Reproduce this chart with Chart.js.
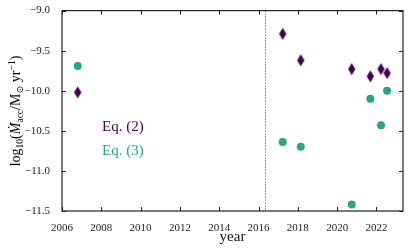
<!DOCTYPE html>
<html>
<head>
<meta charset="utf-8">
<script src="https://cdn.jsdelivr.net/npm/chart.js@4/dist/chart.umd.min.js"></script>
<style>
  html, body { margin: 0; padding: 0; background: #fff; }
  canvas { display: block; }
</style>
</head>
<body>
<canvas id="chart" width="415" height="249"></canvas>
<script>
const years = [2006.8, 2017.23, 2018.15, 2020.74, 2021.69, 2022.23, 2022.54]
const eq2 = [-10.02, -9.29, -9.62, -9.73, -9.82, -9.73, -9.78]
const eq3 = [-9.69, -10.64, -10.70, -11.42, -10.10, -10.43, -10.0]
const xTicks = [2006, 2008, 2010, 2012, 2014, 2016, 2018, 2020, 2022]
const yTicks = [-11.5, -11.0, -10.5, -10.0, -9.5, -9.0]
const markerYear = 2016.33

const purple = "#440154"
const teal = "#22a884"
const serif = "'Liberation Serif', 'DejaVu Serif', serif"

// thin diamond like matplotlib's "d"
function thinDiamond(color) {
  const c = document.createElement("canvas")
  c.width = 9
  c.height = 13
  const g = c.getContext("2d")
  g.fillStyle = color
  g.beginPath()
  g.moveTo(4.5, 0.5)
  g.lineTo(8.2, 6.5)
  g.lineTo(4.5, 12.5)
  g.lineTo(0.8, 6.5)
  g.closePath()
  g.fill()
  return c
}

const fmtMinus = (v) => (v < 0 ? "\u2212" : "") + Math.abs(v).toFixed(1)

const framePlugin = {
  id: "frame",
  beforeDatasetsDraw(chart) {
    const { ctx, chartArea: a, scales } = chart
    const x = scales.x.getPixelForValue(markerYear)
    ctx.save()
    ctx.strokeStyle = "#333"
    ctx.lineWidth = 1
    ctx.setLineDash([1, 2])
    ctx.beginPath()
    ctx.moveTo(Math.round(x) + 0.5, a.top)
    ctx.lineTo(Math.round(x) + 0.5, a.bottom)
    ctx.stroke()
    ctx.restore()
  },
  afterDraw(chart) {
    const { ctx, chartArea: a, scales } = chart
    ctx.save()
    ctx.strokeStyle = "#222"
    ctx.lineWidth = 1.2
    ctx.strokeRect(a.left, a.top, a.right - a.left, a.bottom - a.top)
    ctx.lineWidth = 1
    const tl = 4
    ctx.beginPath()
    xTicks.forEach((v) => {
      const px = Math.round(scales.x.getPixelForValue(v)) + 0.5
      ctx.moveTo(px, a.bottom)
      ctx.lineTo(px, a.bottom - tl)
      ctx.moveTo(px, a.top)
      ctx.lineTo(px, a.top + tl)
    })
    yTicks.forEach((v) => {
      const py = Math.round(scales.y.getPixelForValue(v)) + 0.5
      ctx.moveTo(a.left, py)
      ctx.lineTo(a.left + tl, py)
      ctx.moveTo(a.right, py)
      ctx.lineTo(a.right - tl, py)
    })
    ctx.stroke()

    // legend-like labels
    ctx.font = "15px " + serif
    ctx.textBaseline = "middle"
    ctx.textAlign = "left"
    ctx.fillStyle = purple
    ctx.fillText("Eq. (2)", a.left + 40, 127)
    ctx.fillStyle = teal
    ctx.fillText("Eq. (3)", a.left + 40, 151)

    // y axis title with sub/superscripts
    const parts = [
      ["log", 14, 0, ""],
      ["10", 9.5, 3, ""],
      ["(", 14, 0, ""],
      ["\u1E40", 14, 0, "italic "],
      ["acc", 9.5, 3, ""],
      ["/M", 14, 0, ""],
      ["\u2299", 9.5, 3, ""],
      [" yr", 14, 0, ""],
      ["\u22121", 9.5, -5.5, ""],
      [")", 14, 0, ""],
    ]
    let total = 0
    parts.forEach((p) => {
      ctx.font = p[3] + p[1] + "px " + serif
      total += ctx.measureText(p[0]).width
    })
    ctx.translate(15, 111)
    ctx.rotate(-Math.PI / 2)
    ctx.fillStyle = "#000"
    ctx.textBaseline = "alphabetic"
    let cx = -total / 2
    parts.forEach((p) => {
      ctx.font = p[3] + p[1] + "px " + serif
      ctx.fillText(p[0], cx, 5 + p[2])
      cx += ctx.measureText(p[0]).width
    })
    ctx.restore()
  },
}

const data = {
  datasets: [
    {
      label: "Eq. (2)",
      data: years.map((y, i) => ({ x: y, y: eq2[i] })),
      pointStyle: thinDiamond(purple),
      pointRadius: 5,
      backgroundColor: purple,
      borderColor: purple,
      showLine: false,
    },
    {
      label: "Eq. (3)",
      data: years.map((y, i) => ({ x: y, y: eq3[i] })),
      pointStyle: "circle",
      pointRadius: 4,
      pointBorderWidth: 0,
      backgroundColor: teal,
      borderColor: teal,
      showLine: false,
    },
  ],
}

new Chart(document.getElementById("chart"), {
  type: "scatter",
  data: data,
  plugins: [framePlugin],
  options: {
    responsive: false,
    animation: false,
    layout: { padding: { left: 0, right: 12, top: 10, bottom: 0 } },
    plugins: {
      legend: { display: false },
      tooltip: { enabled: false },
    },
    scales: {
      x: {
        type: "linear",
        min: 2006,
        max: 2023.35,
        afterBuildTicks: (s) => {
          s.ticks = xTicks.map((v) => ({ value: v }))
        },
        afterFit: (s) => {
          s.height = 38
        },
        grid: { display: false },
        border: { display: false },
        ticks: {
          padding: 3,
          color: "#222",
          maxRotation: 0,
          autoSkip: false,
          font: { family: serif, size: 11 },
          callback: (v) => String(v),
        },
        title: {
          display: true,
          text: "year",
          color: "#111",
          padding: { top: 0, bottom: 3 },
          font: { family: serif, size: 15 },
        },
      },
      y: {
        min: -11.5,
        max: -9,
        afterBuildTicks: (s) => {
          s.ticks = yTicks.map((v) => ({ value: v }))
        },
        afterFit: (s) => {
          s.width = 62
        },
        grid: { display: false },
        border: { display: false },
        ticks: {
          padding: 4,
          color: "#222",
          autoSkip: false,
          font: { family: serif, size: 11 },
          callback: (v) => fmtMinus(v),
        },
      },
    },
  },
})
</script>
</body>
</html>
